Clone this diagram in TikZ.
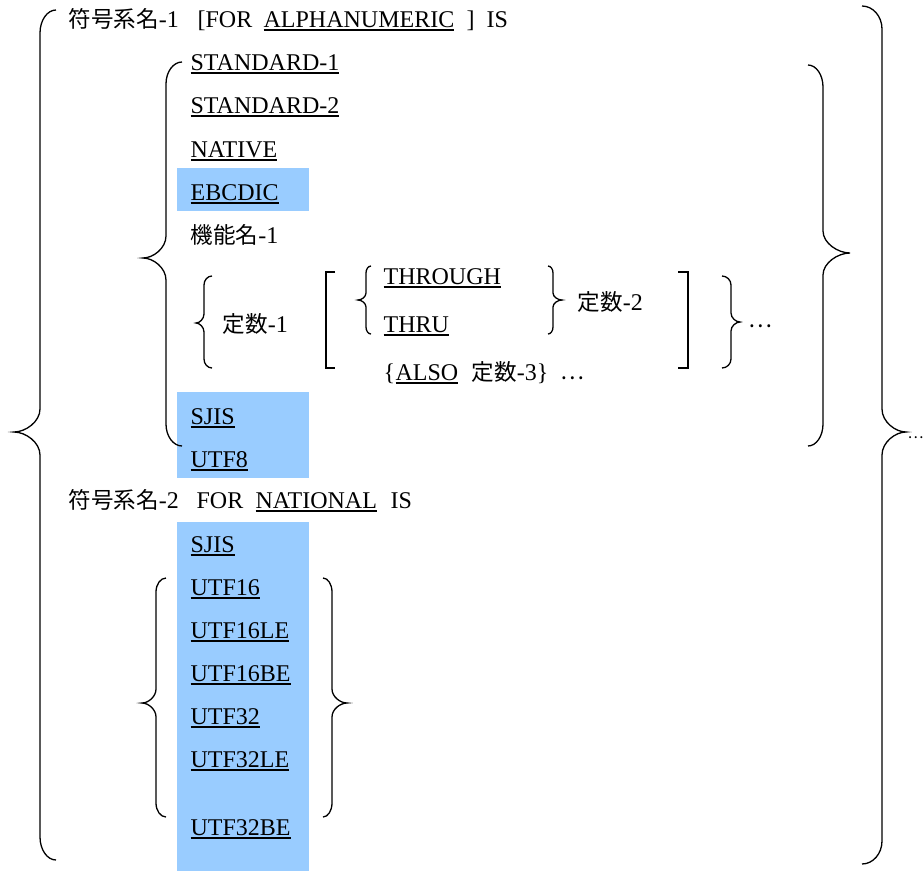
\documentclass[tikz,border=0pt]{standalone}
\usepackage{fontspec}
\setmainfont{Liberation Serif}
\newfontfamily\jp[Scale=0.94]{Noto Sans CJK JP}
\usepackage{xcolor}
\definecolor{hlblue}{RGB}{153,204,255}
\newcommand{\uln}[1]{\setbox0=\hbox{#1}\rlap{\rule[-3.6pt]{\wd0}{1.2pt}}\box0}
\newcommand{\curly}[7]{%
  \draw (#2,#4) .. controls ({#1+0.45*(#2-#1)},#4) and (#1,{#4+0.45*#7}) .. (#1,{#4+#7})
    -- (#1,{#5-#7}) .. controls (#1,{#5-0.45*#7}) and ({#1+0.55*(#3-#1)},#5) .. (#3,#5)
    .. controls ({#1+0.55*(#3-#1)},#5) and (#1,{#5+0.45*#7}) .. (#1,{#5+#7})
    -- (#1,{#6-#7}) .. controls (#1,{#6-0.45*#7}) and ({#1+0.45*(#2-#1)},#6) .. (#2,#6);}

\begin{document}
\begin{tikzpicture}[x=1pt,y=-1pt,font=\fontsize{24}{28}\selectfont,line width=1.3pt,
  txt/.style={anchor=base west,inner sep=0pt}]
		\useasboundingbox (0,0) rectangle (924,871);
		\fill[hlblue](177,168) rectangle (309,211);
		\fill[hlblue](177,392) rectangle (309,478);
		\fill[hlblue](177,522) rectangle (309,871);
		\node[txt](sym1) at (68,27){{\jp 符号系名}-1};
		\node[txt](for1) at (197,27){[FOR};
		\node[txt](alnum) at (263,27){\uln{ALPHANUMERIC}};
		\node[txt](rsq) at (466,27){]};
		\node[txt](is1) at (486,27){IS};
		\node[txt](std1) at (190,70){\uln{STANDARD-1}};
		\node[txt](std2) at (190,113){\uln{STANDARD-2}};
		\node[txt](native) at (190,157){\uln{NATIVE}};
		\node[txt](ebcdic) at (190,200){\uln{EBCDIC}};
		\node[txt](func1) at (190,243){{\jp 機能名}-1};
		\node[txt](lit1) at (222,332){{\jp 定数}-1};
		\node[txt](through) at (383,284){\uln{THROUGH}};
		\node[txt](thru) at (383,332){\uln{THRU}};
		\node[txt](lit2) at (577,310){{\jp 定数}-2};
		\node[txt](lcb) at (383,380){\{};
		\node[txt](also) at (395,380){\uln{ALSO}};
		\node[txt](lit3) at (471,380){{\jp 定数}-3\}};
		\node[txt](dots3) at (560,379){\jp …};
		\node[txt](dots2) at (748,327){\jp …};
		\node[txt,font=\fontsize{16}{18}\selectfont](dots1) at (907,438){\jp …};
		\node[txt](sjis1) at (190,424){\uln{SJIS}};
		\node[txt](utf8) at (190,467){\uln{UTF8}};
		\node[txt](sym2) at (68,508){{\jp 符号系名}-2};
		\node[txt](for2) at (196,508){FOR};
		\node[txt](natl) at (255,508){\uln{NATIONAL}};
		\node[txt](is2) at (390,508){IS};
		\node[txt](sjis2) at (190,552){\uln{SJIS}};
		\node[txt](utf16) at (190,595){\uln{UTF16}};
		\node[txt](utf16le) at (190,638){\uln{UTF16LE}};
		\node[txt](utf16be) at (190,681){\uln{UTF16BE}};
		\node[txt](utf32) at (190,724){\uln{UTF32}};
		\node[txt](utf32le) at (190,767){\uln{UTF32LE}};
		\node[txt](utf32be) at (190,835){\uln{UTF32BE}};
		% braces
		\curly{40}{56}{14}{10}{432}{860}{23}
		\curly{882}{862}{906}{6}{432}{864}{23}
		\curly{166}{182}{143}{62}{258}{446}{22}
		\curly{823}{808}{850}{65}{253}{446}{22}
		\curly{204}{212}{196}{276}{323}{368}{9}
		\curly{731}{722}{740}{276}{322}{368}{9}
		\curly{366}{371}{358}{266}{300}{334}{7}
		\curly{553}{548}{562}{266}{300}{334}{7}
		\curly{156}{166}{142}{578}{703}{817}{14}
		\curly{332}{323}{347}{578}{703}{817}{14}
		\draw(335,272)--(326,272)--(326,368)--(335,368);
		\draw(678,272)--(688,272)--(688,368)--(678,368);
\end{tikzpicture}
\end{document}
